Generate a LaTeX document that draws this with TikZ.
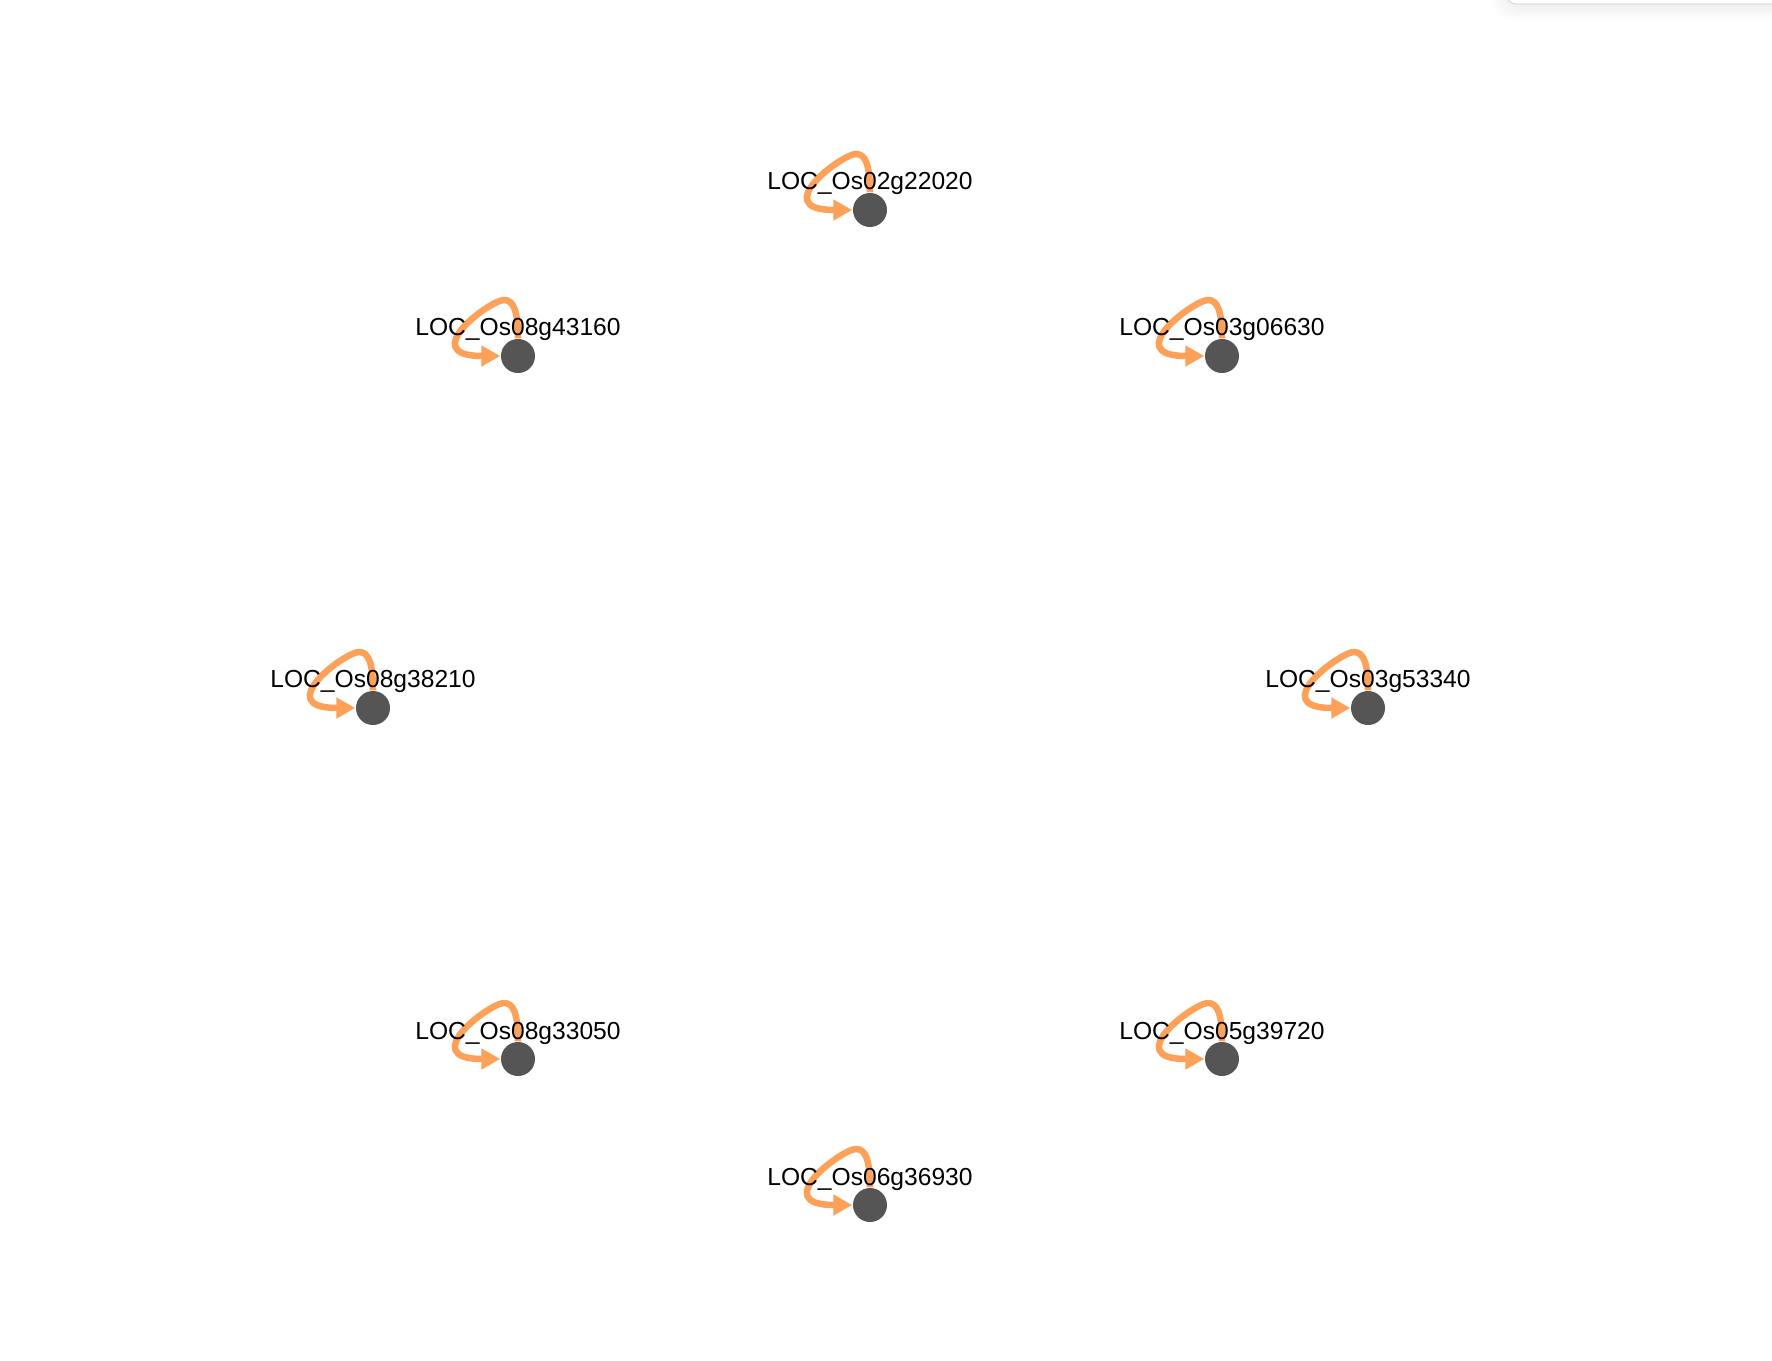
\documentclass[tikz,border=0pt]{standalone}
\usepackage{fontspec}
\setmainfont{Liberation Sans}
\usetikzlibrary{arrows.meta}
\definecolor{loopcol}{RGB}{253,160,88}
\definecolor{genecol}{RGB}{85,85,85}

\begin{document}
\begin{tikzpicture}
  [x=0.01cm,y=-0.01cm,
   gene/.style={circle,fill=genecol,minimum size=0.34cm,inner sep=0pt},
   genelabel/.style={anchor=base,inner sep=0pt,font=\fontsize{7}{8}\selectfont},
   selfloop/.style={draw=loopcol,line width=1.85pt,line join=round,-{Triangle[length=0.19cm,width=0.2cm]}}]
  \useasboundingbox (0,0) rectangle (1772,1360);
  % panel in the corner
  \foreach \d in {1,...,8}
    \fill[black,opacity=0.006,rounded corners=6pt] (1507-2*\d,-30) rectangle (1800,4+2*\d);
  \draw[gray!25,fill=white,rounded corners=2.5pt] (1507,-20) rectangle (1800,4);

  \node[gene] (n1) at (870,210)  {};
  \node[gene] (n2) at (1222,356) {};
  \node[gene] (n3) at (1368,708) {};
  \node[gene] (n4) at (1222,1059) {};
  \node[gene] (n5) at (870,1205) {};
  \node[gene] (n6) at (518,1059) {};
  \node[gene] (n7) at (373,708)  {};
  \node[gene] (n8) at (518,356)  {};

\foreach \n in {n1,n2,n3,n4,n5,n6,n7,n8}
    \draw[selfloop] (\n.north) .. controls +(0,-26) and +(10,0) .. ([shift={(-14,-56)}]\n.center)
      .. controls +(-14,0) and +(-85,0) .. (\n.west);

\foreach \n/\txt in
{n1/LOC\_Os02g22020, n2/LOC\_Os03g06630, n3/LOC\_Os03g53340, n4/LOC\_Os05g39720,
 n5/LOC\_Os06g36930, n6/LOC\_Os08g33050, n7/LOC\_Os08g38210, n8/LOC\_Os08g43160}
    \node[genelabel] (\n t) at ([yshift=0.2cm]\n.center) {\txt};
\end{tikzpicture}
\end{document}
